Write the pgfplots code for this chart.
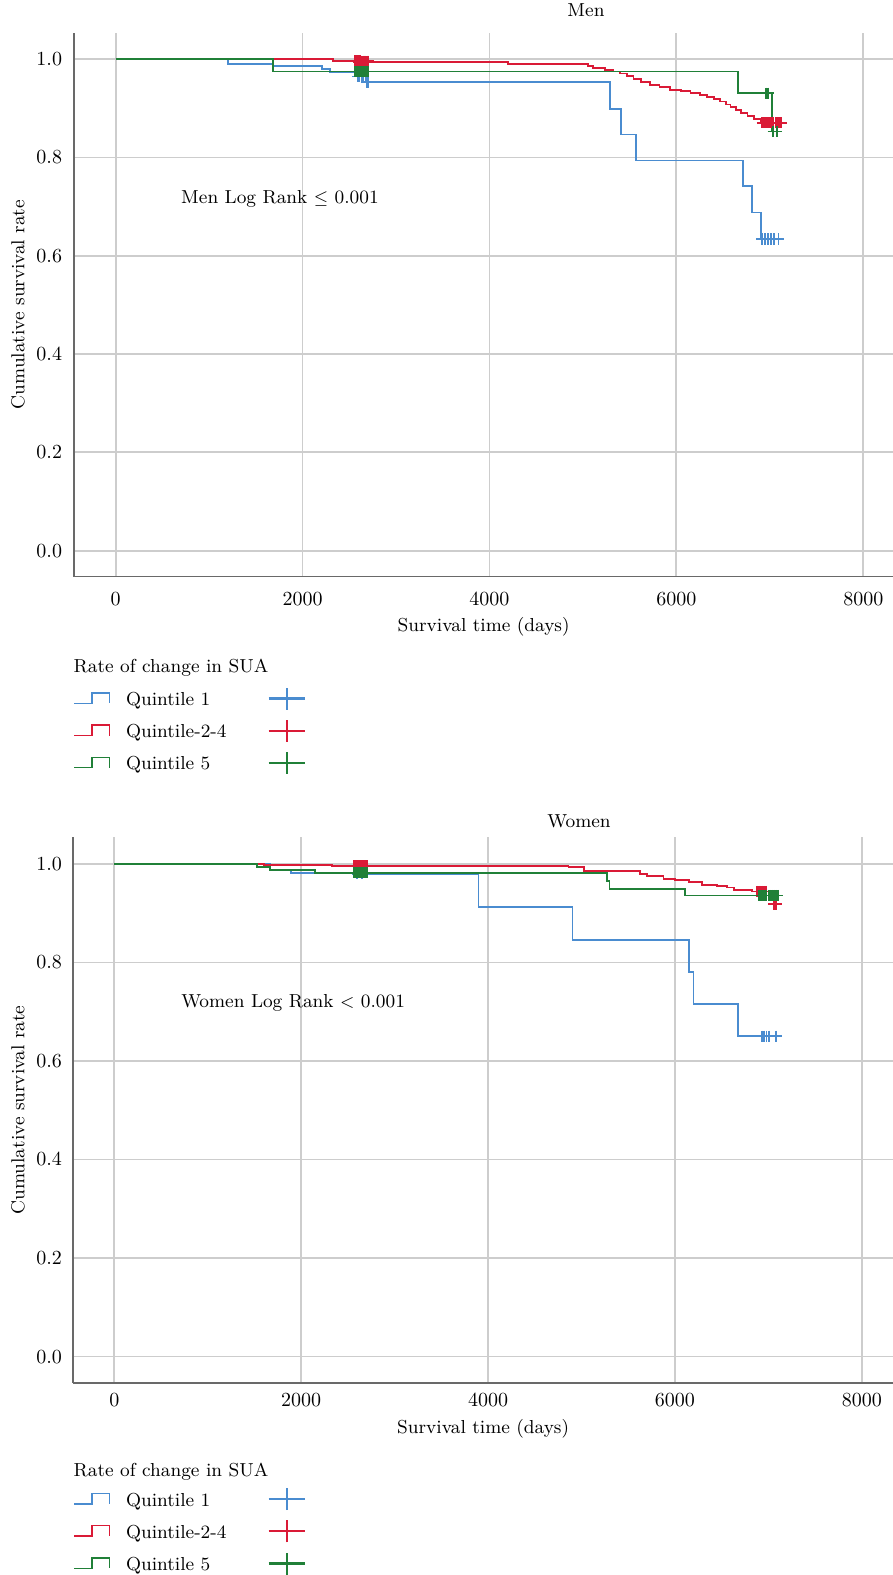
\documentclass[border=0pt]{standalone}
\usepackage{pgfplots}
\pgfplotsset{compat=1.18}
\definecolor{qblue}{RGB}{74,140,208}
\definecolor{qred}{RGB}{218,26,54}
\definecolor{qgreen}{RGB}{32,128,56}
\definecolor{gridgray}{RGB}{205,205,205}
\definecolor{axgray}{RGB}{105,105,105}
\pgfplotsset{
  stepleg/.style={legend image code/.code={\draw[#1,line width=0.7pt] (0pt,-1.4pt) -- (8.75pt,-1.4pt) -- (8.75pt,3.8pt) -- (17.5pt,3.8pt) -- (17.5pt,-1.4pt);}},
  crossleg/.style={legend image code/.code={\draw[#1,line width=1.1pt] (0pt,1pt) -- (18pt,1pt) (9pt,-4.5pt) -- (9pt,6.5pt);}},
  kmstyle/.style={
    scale only axis, clip=false,
    ymin=-0.053, ymax=1.054,
    xtick={0,2000,4000,6000,8000},
    ytick={0,0.2,0.4,0.6,0.8,1.0},
    axis x line*=bottom, axis y line*=left,
    axis line style={draw=axgray, line width=0.8pt, -},
    grid=major,
    major grid style={draw=gridgray, line width=0.9pt},
    major tick length=0pt,
    tick label style={font=\fontsize{10.4}{12}\selectfont},
    yticklabel style={/pgf/number format/fixed, /pgf/number format/fixed zerofill, /pgf/number format/precision=1},
    xticklabel style={/pgf/number format/1000 sep={}},
    xlabel={Survival time (days)},
    ylabel={Cumulative survival rate},
    legend columns=2,
    legend cell align=left,
    legend style={draw=none, fill=none, anchor=north west, inner sep=0pt, row sep=4pt,
      nodes={inner sep=0pt, text height=7pt, text depth=2pt},
      /tikz/every odd column/.append style={column sep=8pt},
      /tikz/every even column/.append style={column sep=20.5pt}},
  },
  curve/.style={const plot, line width=0.9pt, forget plot},
  cens/.style={only marks, mark=+, mark size=2.8pt, mark options={line width=0.9pt}, forget plot},
}
\begin{document}
\fontsize{9.4}{11.3}\selectfont
\begin{tikzpicture}
\useasboundingbox (0pt,0pt) rectangle (446.5pt,787.5pt);
% ---------------- Men ----------------
\begin{axis}[kmstyle, at={(37.15pt,499.15pt)}, anchor=south west,
  width=409.35pt, height=272pt, xmin=-443, xmax=8318,
  xticklabel style={yshift=-4.6pt}, yticklabel style={xshift=-2.8pt},
  xlabel style={at={(axis description cs:0.5,-0.0925)}, anchor=center},
  ylabel style={at={(axis description cs:-0.0688,0.5)}, anchor=center},
  legend style={at={(axis description cs:-0.0012,-0.201)}}]
\addplot[curve, qblue] coordinates {(0,1) (1203,0.990) (1685,0.987) (2205,0.980) (2294,0.973) (2560,0.965) (2680,0.953) (5293,0.899) (5407,0.847) (5567,0.794) (6716,0.742) (6809,0.688) (6909,0.634) (7130,0.634)};
\addplot[cens, qblue] coordinates {(2590,0.965) (2610,0.965) (2630,0.965) (2650,0.965) (2690,0.953) (2705,0.953) (6914,0.634) (6950,0.634) (6979,0.634) (7011,0.634) (7047,0.634) (7092,0.634)};
\addplot[curve, qred] coordinates {(0,1) (2327,0.997) (2550,0.995) (4195,0.991) (5057,0.987) (5110,0.982) (5240,0.978) (5320,0.975) (5400,0.971) (5470,0.966) (5540,0.959) (5620,0.954) (5720,0.948) (5820,0.943) (5935,0.938) (6050,0.935) (6150,0.931) (6250,0.927) (6330,0.923) (6400,0.919) (6470,0.914) (6530,0.908) (6580,0.902) (6640,0.896) (6690,0.890) (6760,0.884) (6830,0.878) (6900,0.871) (7150,0.871)};
\addplot[cens, qred] coordinates {(2560,0.997) (2574,0.997) (2588,0.997) (2602,0.997) (2616,0.997) (2630,0.996) (2644,0.996) (2658,0.996) (2672,0.996) (2686,0.996) (2700,0.996) (6920,0.871) (6940,0.871) (6960,0.871) (6980,0.871) (7000,0.871) (7020,0.871) (7040,0.871) (7060,0.871) (7080,0.871) (7100,0.871) (7120,0.871)};
\addplot[curve, qgreen] coordinates {(0,1) (1685,0.975) (6663,0.931) (7020,0.853) (7078,0.853)};
\addplot[cens, qgreen] coordinates {(2560,0.975) (2574,0.975) (2588,0.975) (2602,0.975) (2616,0.975) (2630,0.975) (2644,0.975) (2658,0.975) (2672,0.975) (2686,0.975) (2700,0.975) (6955,0.931) (6983,0.931) (7037,0.853) (7073,0.853)};
\addlegendimage{stepleg=qblue}\addlegendentry{Quintile 1}
\addlegendimage{crossleg=qblue}\addlegendentry{}
\addlegendimage{stepleg=qred}\addlegendentry{Quintile-2-4}
\addlegendimage{crossleg=qred}\addlegendentry{}
\addlegendimage{stepleg=qgreen}\addlegendentry{Quintile 5}
\addlegendimage{crossleg=qgreen}\addlegendentry{}
\node[anchor=center] at (axis description cs:0.625,1.042) {Men};
\node[anchor=west, inner sep=0pt] at (axis cs:697,0.716) {Men Log Rank $\leq$ 0.001};
\node[anchor=west, inner sep=0pt] at (axis description cs:-0.0012,-0.168) {Rate of change in SUA};
\end{axis}
% ---------------- Women ----------------
\begin{axis}[kmstyle, at={(36.65pt,96.15pt)}, anchor=south west,
  width=409.85pt, height=272.7pt, xmin=-439, xmax=8333,
  xticklabel style={yshift=-2.1pt}, yticklabel style={xshift=-2.4pt},
  xlabel style={at={(axis description cs:0.5,-0.0838)}, anchor=center},
  ylabel style={at={(axis description cs:-0.0675,0.5)}, anchor=center},
  legend style={at={(axis description cs:0,-0.1905)}}]
\addplot[curve, qblue] coordinates {(0,1) (1667,0.988) (1889,0.982) (2580,0.980) (3897,0.913) (4904,0.846) (6153,0.781) (6199,0.716) (6670,0.650) (7127,0.650)};
\addplot[cens, qblue] coordinates {(2600,0.980) (2650,0.980) (6931,0.650) (6955,0.650) (6980,0.650) (7003,0.650) (7085,0.650)};
\addplot[curve, qred] coordinates {(0,1) (1600,0.997) (2327,0.995) (4861,0.993) (5022,0.986) (5628,0.980) (5700,0.975) (5878,0.970) (6000,0.967) (6146,0.963) (6289,0.957) (6450,0.955) (6557,0.952) (6628,0.947) (6825,0.944) (7056,0.918) (7085,0.918)};
\addplot[cens, qred] coordinates {(2560,0.996) (2574,0.996) (2588,0.996) (2602,0.996) (2616,0.996) (2630,0.996) (2644,0.996) (2658,0.996) (2672,0.996) (2686,0.996) (2700,0.996) (6875,0.944) (6895,0.944) (6915,0.944) (6935,0.944) (6955,0.944) (6975,0.944) (7060,0.918) (7080,0.918)};
\addplot[curve, qgreen] coordinates {(0,1) (1531,0.993) (1667,0.988) (2149,0.982) (5272,0.966) (5300,0.949) (6103,0.936) (7110,0.936)};
\addplot[cens, qgreen] coordinates {(2560,0.982) (2574,0.982) (2588,0.982) (2602,0.982) (2616,0.982) (2630,0.982) (2644,0.982) (2658,0.982) (2672,0.982) (2686,0.982) (2700,0.982) (6900,0.936) (6920,0.936) (6940,0.936) (6960,0.936) (6980,0.936) (7000,0.936) (7020,0.936) (7040,0.936) (7060,0.936) (7080,0.936) (7100,0.936)};
\addlegendimage{stepleg=qblue}\addlegendentry{Quintile 1}
\addlegendimage{crossleg=qblue}\addlegendentry{}
\addlegendimage{stepleg=qred}\addlegendentry{Quintile-2-4}
\addlegendimage{crossleg=qred}\addlegendentry{}
\addlegendimage{stepleg=qgreen}\addlegendentry{Quintile 5}
\addlegendimage{crossleg=qgreen}\addlegendentry{}
\node[anchor=center] at (axis description cs:0.617,1.030) {Women};
\node[anchor=west, inner sep=0pt] at (axis cs:712,0.7175) {Women Log Rank $<$ 0.001};
\node[anchor=west, inner sep=0pt] at (axis description cs:0,-0.163) {Rate of change in SUA};
\end{axis}
\end{tikzpicture}
\end{document}
